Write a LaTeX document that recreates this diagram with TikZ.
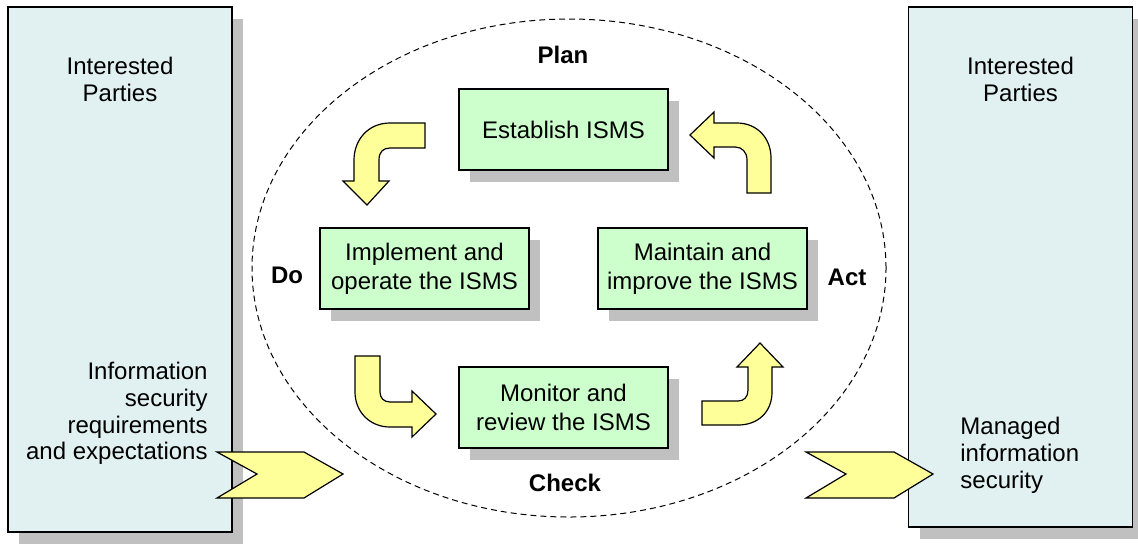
\documentclass[tikz,border=0pt]{standalone}
\usepackage{fontspec}
\setmainfont{Liberation Sans}
\usetikzlibrary{shadows}
\definecolor{partyfill}{HTML}{E1F0F0}
\definecolor{phasefill}{HTML}{CCFFCC}
\definecolor{arrowfill}{HTML}{FFFF99}
\definecolor{shadegray}{HTML}{C0C0C0}
\tikzset{
  boxshadow/.style={drop shadow={shadow xshift=5.5pt,shadow yshift=-6pt,fill=shadegray,opacity=1}},
  partybox/.style={draw=black,fill=partyfill,line width=0.6pt,boxshadow,minimum width=112pt,inner sep=0pt},
  phasebox/.style={draw=black,fill=phasefill,line width=0.6pt,boxshadow,minimum width=104.5pt,minimum height=40.5pt,align=center,inner sep=0pt,font=\fontsize{12pt}{14.5pt}\selectfont},
  phaselabel/.style={font=\fontsize{12pt}{14.5pt}\selectfont\bfseries,inner sep=0pt},
  partytext/.style={font=\fontsize{12pt}{13.3pt}\selectfont,inner sep=0pt},
  blockarrow/.style={draw=black,fill=arrowfill,line width=0.6pt,line join=miter},
}

\begin{document}
\begin{tikzpicture}[x=0.5pt,y=-0.5pt]
\useasboundingbox (0,0) rectangle (1138,553);
\fill[white] (0,0) rectangle (1138,553);
% Drawing parties
\node[partybox,minimum height=262.5pt] (partiesL) at (120,269.5) {};
\node[partybox,minimum height=260pt] (partiesR) at (1020.5,267) {};
\node[partytext,anchor=north,align=center] (titleL) at (120,57) {Interested\\Parties};
\node[partytext,anchor=north,align=center] (titleR) at (1020.5,57) {Interested\\Parties};
\node[partytext,anchor=north east,align=right] (reqs) at (208,362) {Information\\security\\requirements\\and expectations};
\node[partytext,anchor=north west,align=left] (managed) at (960,417) {Managed\\information\\security};
% Done with parties; drawing the cycle
\draw[dashed,dash pattern=on 3pt off 2pt,line width=0.5pt] (569,268) ellipse [x radius=158.5pt,y radius=124.5pt];
\node[phasebox] (establish) at (563.5,129.5) {Establish ISMS};
\node[phasebox] (implement) at (424.5,268.5) {Implement and\\operate the ISMS};
\node[phasebox] (maintain) at (702.5,268.5) {Maintain and\\improve the ISMS};
\node[phasebox] (monitor) at (563.5,407.5) {Monitor and\\review the ISMS};
\node[phaselabel] (plan) at (563,55) {Plan};
\node[phaselabel] (do) at (287,275) {Do};
\node[phaselabel] (act) at (847,277) {Act};
\node[phaselabel] (check) at (565,483) {Check};
% Done with phases; drawing arrows
% Plan to Do
\draw[blockarrow] (425,123) -- (390,123) .. controls (368,123) and (354,140) .. (354,160) -- (354,181) -- (343,181) -- (367,205) -- (389,181) -- (379,181) -- (379,160) .. controls (379,152) and (383,148) .. (390,148) -- (425,148) -- cycle;
% Do to Check
\draw[blockarrow] (355,356) -- (380,356) -- (380,392) .. controls (380,398) and (384,402) .. (390,402) -- (412,402) -- (412,391) -- (436,414) -- (412,437) -- (412,427) -- (390,427) .. controls (370,427) and (355,412) .. (355,392) -- cycle;
% Check to Act
\draw[blockarrow] (702,401) -- (738,401) .. controls (744,401) and (748,397) .. (748,390) -- (748,367) -- (737,367) -- (760,343) -- (783,367) -- (772,367) -- (772,392) .. controls (772,412) and (758,425) .. (738,425) -- (702,425) -- cycle;
% Act to Plan
\draw[blockarrow] (747,193) -- (771,193) -- (771,158) .. controls (771,138) and (757,123) .. (737,123) -- (714,123) -- (714,112) -- (690,135) -- (714,158) -- (714,147) -- (735,147) .. controls (742,147) and (747,152) .. (747,160) -- cycle;
% In and out
\draw[blockarrow] (217,452) -- (304,452) -- (343,474) -- (304,498) -- (217,498) -- (257,474) -- cycle;
\draw[blockarrow] (806,452) -- (894,452) -- (933,474) -- (894,498) -- (806,498) -- (846,474) -- cycle;
% Done with arrows
\end{tikzpicture}
\end{document}
